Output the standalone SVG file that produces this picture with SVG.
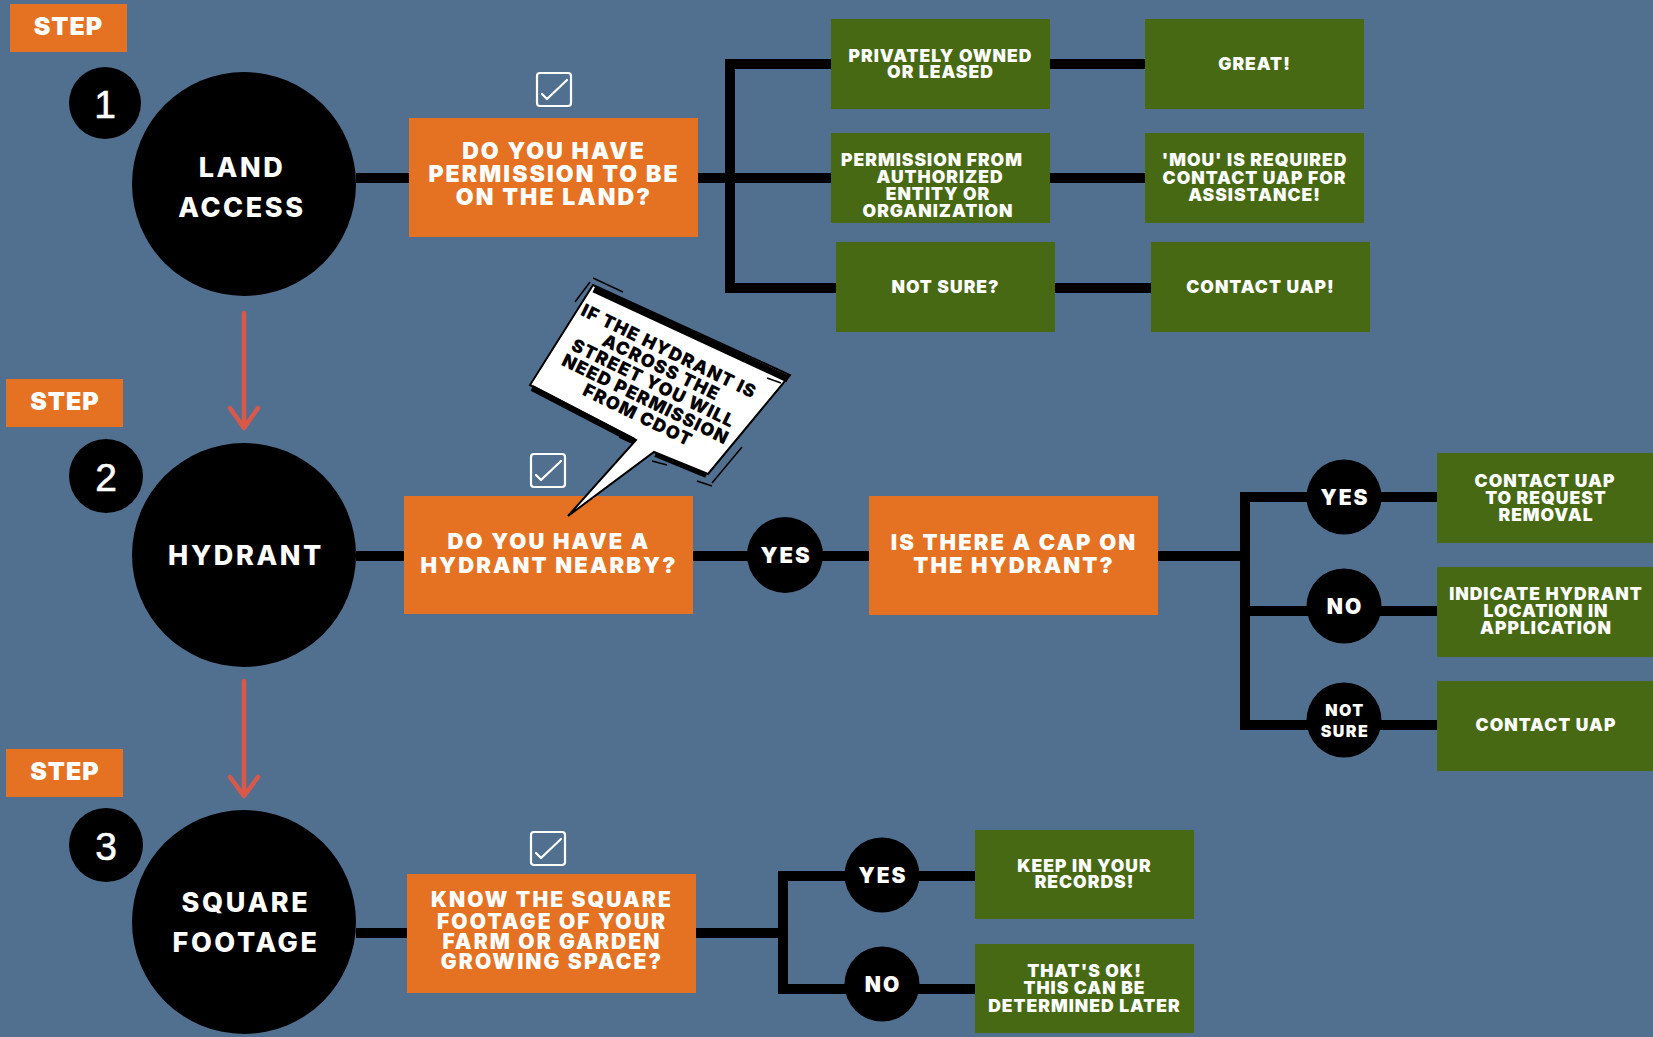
<svg xmlns="http://www.w3.org/2000/svg" width="1653" height="1037" viewBox="0 0 1653 1037">
<defs>
<style>
.bg{fill:#51708F}
.step rect{fill:#E57222}
.step text{font-family:Inter,"Open Sans",sans-serif;font-weight:900;font-size:25px;fill:#fff;text-anchor:middle;letter-spacing:1px}
.num circle,.main circle,.ch circle{fill:#000}
.num text{font-family:"Liberation Sans",Arial,sans-serif;font-size:39px;fill:#fff;stroke:#fff;stroke-width:0.6px;text-anchor:middle}
.main text{font-family:Inter,"Open Sans",sans-serif;font-weight:800;font-size:27px;fill:#fff;text-anchor:middle;letter-spacing:2.6px}
.q rect{fill:#E57222}
.q text{font-family:Inter,"Open Sans",sans-serif;font-weight:900;font-size:23px;fill:#fff;text-anchor:middle;letter-spacing:2.1px}
.a rect{fill:#486914}
.a text{font-family:Inter,"Open Sans",sans-serif;font-weight:900;font-size:17.5px;fill:#fff;text-anchor:middle;letter-spacing:1px}
.ch text{font-family:Inter,"Open Sans",sans-serif;font-weight:900;font-size:21px;fill:#fff;text-anchor:middle;letter-spacing:2px}
.ch text.sm{font-size:16px;letter-spacing:1.5px}
.chk rect{fill:none;stroke:#fff;stroke-width:2.2}
.chk polyline{fill:none;stroke:#fff;stroke-width:2.2;stroke-linecap:round;stroke-linejoin:round}
.link{stroke:#000;stroke-width:10;fill:none;stroke-linejoin:miter}
.flow{stroke:#D9584A;stroke-width:4.5;fill:none;stroke-linecap:round;stroke-linejoin:round}
.bub text{font-family:Inter,"Open Sans",sans-serif;font-weight:900;font-size:18px;fill:#000;text-anchor:middle;letter-spacing:1.1px}
.deco{stroke:#000;fill:none;stroke-width:1.5}
</style>
<g id="chkmark" class="chk"><rect x="1" y="1" width="34" height="33" rx="3"/><polyline points="6,22 11,27 31,8"/></g>
</defs>
<rect class="bg" x="0" y="0" width="1653" height="1037"/>

<g id="connectors">
  <path class="link" d="M356,178 H409"/>
  <path class="link" d="M698,178 H735"/>
  <path class="link" d="M831,64 H730 V288 H836"/>
  <path class="link" d="M730,178 H831"/>
  <path class="link" d="M1050,64 H1145"/>
  <path class="link" d="M1050,178 H1145"/>
  <path class="link" d="M1055,288 H1151"/>
  <path class="link" d="M356,556 H404"/>
  <path class="link" d="M693,556 H869"/>
  <path class="link" d="M1158,556 H1250"/>
  <path class="link" d="M1437,497 H1245 V725 H1437"/>
  <path class="link" d="M1245,611 H1437"/>
  <path class="link" d="M356,933 H407"/>
  <path class="link" d="M696,933 H788"/>
  <path class="link" d="M975,876 H783 V989 H975"/>
  <path class="flow" d="M244,313 V427 M230,408 L244,428 L258,408"/>
  <path class="flow" d="M244,681 V795 M230,777 L244,796 L258,777"/>
</g>

<g id="step1-label" class="step"><rect x="10" y="4" width="117" height="48"/><text x="68.5" y="35">STEP</text></g>
<g id="step2-label" class="step"><rect x="6" y="379" width="117" height="48"/><text x="65" y="410">STEP</text></g>
<g id="step3-label" class="step"><rect x="6" y="749" width="117" height="48"/><text x="65" y="780">STEP</text></g>

<g id="num1" class="num"><circle cx="105" cy="103" r="36"/><text x="105" y="118">1</text></g>
<g id="num2" class="num"><circle cx="106" cy="476" r="37"/><text x="106" y="491">2</text></g>
<g id="num3" class="num"><circle cx="106" cy="845" r="37"/><text x="106" y="860">3</text></g>

<g id="land-access" class="main"><circle cx="244" cy="184" r="112"/><text x="242" y="177">LAND</text><text x="242" y="217">ACCESS</text></g>
<g id="hydrant" class="main"><circle cx="244" cy="555" r="112"/><text x="246" y="565">HYDRANT</text></g>
<g id="square-footage" class="main"><circle cx="244" cy="922" r="112"/><text x="246" y="912">SQUARE</text><text x="246" y="952">FOOTAGE</text></g>

<use href="#chkmark" x="536" y="72"/>
<use href="#chkmark" x="530" y="453"/>
<use href="#chkmark" x="530" y="831"/>

<g id="q-permission" class="q"><rect x="409" y="118" width="289" height="119"/>
<text x="554" y="159">DO YOU HAVE</text><text x="554" y="182">PERMISSION TO BE</text><text x="554" y="205">ON THE LAND?</text></g>
<g id="q-hydrant" class="q"><rect x="404" y="496" width="289" height="118"/>
<text x="549" y="549" style="font-size:22px">DO YOU HAVE A</text><text x="549" y="573" style="font-size:22px">HYDRANT NEARBY?</text></g>
<g id="q-cap" class="q"><rect x="869" y="496" width="289" height="119"/>
<text x="1014" y="550" style="font-size:22px">IS THERE A CAP ON</text><text x="1014" y="573" style="font-size:22px">THE HYDRANT?</text></g>
<g id="q-footage" class="q"><rect x="407" y="874" width="289" height="119"/>
<text x="552" y="907" style="font-size:21px">KNOW THE SQUARE</text><text x="552" y="929" style="font-size:21px">FOOTAGE OF YOUR</text><text x="552" y="949" style="font-size:21px">FARM OR GARDEN</text><text x="552" y="969" style="font-size:21px">GROWING SPACE?</text></g>

<g id="a-private" class="a"><rect x="831" y="19" width="219" height="90"/><text x="940.5" y="62">PRIVATELY OWNED</text><text x="940.5" y="78">OR LEASED</text></g>
<g id="a-great" class="a"><rect x="1145" y="19" width="219" height="90"/><text x="1254.5" y="70">GREAT!</text></g>
<g id="a-authorized" class="a"><rect x="831" y="133" width="219" height="90"/><text x="932" y="166">PERMISSION FROM</text><text x="940" y="183">AUTHORIZED</text><text x="938" y="200">ENTITY OR</text><text x="938" y="217">ORGANIZATION</text></g>
<g id="a-mou" class="a"><rect x="1145" y="133" width="219" height="90"/><text x="1254.5" y="166">'MOU' IS REQUIRED</text><text x="1254.5" y="184">CONTACT UAP FOR</text><text x="1254.5" y="201">ASSISTANCE!</text></g>
<g id="a-notsure" class="a"><rect x="836" y="242" width="219" height="90"/><text x="945.5" y="293">NOT SURE?</text></g>
<g id="a-contact1" class="a"><rect x="1151" y="242" width="219" height="90"/><text x="1260.5" y="293">CONTACT UAP!</text></g>

<g id="c-yes-hydrant" class="ch"><circle cx="785" cy="555" r="38"/><text x="786" y="563" style="font-size:22px">YES</text></g>
<g id="c-yes-cap" class="ch"><circle cx="1344" cy="497" r="37.5"/><text x="1345" y="505">YES</text></g>
<g id="c-no-cap" class="ch"><circle cx="1344" cy="606" r="37.5"/><text x="1345" y="614">NO</text></g>
<g id="c-notsure-cap" class="ch"><circle cx="1344" cy="720" r="37.5"/><text class="sm" x="1345" y="716">NOT</text><text class="sm" x="1345" y="737">SURE</text></g>

<g id="a-removal" class="a"><rect x="1437" y="453" width="216" height="90"/><text x="1545" y="487">CONTACT UAP</text><text x="1546" y="504">TO REQUEST</text><text x="1546" y="521">REMOVAL</text></g>
<g id="a-indicate" class="a"><rect x="1437" y="567" width="216" height="90"/><text x="1546" y="600">INDICATE HYDRANT</text><text x="1546" y="617">LOCATION IN</text><text x="1546" y="634">APPLICATION</text></g>
<g id="a-contact2" class="a"><rect x="1437" y="681" width="216" height="90"/><text x="1546" y="731">CONTACT UAP</text></g>

<g id="c-yes-sq" class="ch"><circle cx="882" cy="875" r="37.5"/><text x="883" y="883">YES</text></g>
<g id="c-no-sq" class="ch"><circle cx="882" cy="984" r="37.5"/><text x="883" y="992">NO</text></g>

<g id="a-records" class="a"><rect x="975" y="830" width="219" height="89"/><text x="1084.5" y="872">KEEP IN YOUR</text><text x="1084.5" y="888">RECORDS!</text></g>
<g id="a-later" class="a"><rect x="975" y="944" width="219" height="89"/><text x="1084.5" y="977">THAT'S OK!</text><text x="1084.5" y="994">THIS CAN BE</text><text x="1084.5" y="1012">DETERMINED LATER</text></g>

<g id="bubble" class="bub">
  <polygon points="593,285 790,375 708,474 654,452 568,516 636,440 530,385" fill="#fff" stroke="#000" stroke-width="2"/>
  <line x1="594" y1="289" x2="788" y2="379" stroke="#000" stroke-width="7"/>
  <line x1="532" y1="388" x2="634" y2="441" stroke="#000" stroke-width="6"/>
  <line x1="655" y1="455" x2="706" y2="476" stroke="#000" stroke-width="4"/>
  <line class="deco" x1="593" y1="278" x2="623" y2="292"/>
  <line class="deco" x1="590" y1="282" x2="575" y2="302"/>
  <line class="deco" x1="697" y1="481" x2="712" y2="486"/>
  <line class="deco" x1="712" y1="483" x2="742" y2="447"/>
  <line class="deco" x1="619" y1="437" x2="632" y2="443"/>
  <line class="deco" x1="652" y1="461" x2="667" y2="465"/>
  <line class="deco" x1="767" y1="378" x2="781" y2="383"/>
  <g transform="translate(653.5,383) rotate(26)">
    <text x="0" y="-29">IF THE HYDRANT IS</text>
    <text x="0" y="-11.3">ACROSS THE</text>
    <text x="0" y="6.5">STREET YOU WILL</text>
    <text x="0" y="24.3">NEED PERMISSION</text>
    <text x="0" y="42">FROM CDOT</text>
  </g>
</g>
</svg>
